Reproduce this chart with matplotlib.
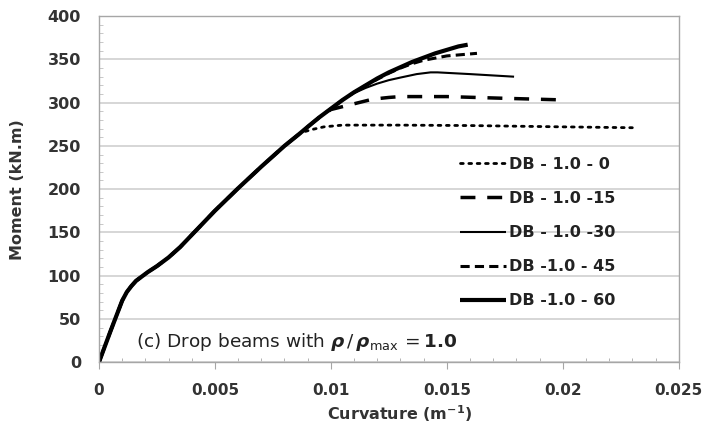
import numpy as np
import matplotlib
matplotlib.use('Agg')
import matplotlib.pyplot as plt
from matplotlib.ticker import MultipleLocator

# shared elastic/cracked branch (same for all drop beams up to yielding)
base_curv = [0, 0.0005, 0.001, 0.0012, 0.0014, 0.0016, 0.0018, 0.0021, 0.0025,
             0.003, 0.0035, 0.004, 0.0045, 0.005, 0.006, 0.007, 0.008, 0.0086]
base_moment = [0, 36, 71, 81, 88, 94, 98, 104, 111, 121, 133, 147, 161, 175,
               201, 226, 250, 263]

# post-branch segments for each beam
db0_curv = [0.0088, 0.0092, 0.0097, 0.0105, 0.013, 0.016, 0.020, 0.0230]
db0_moment = [266, 269, 272, 274, 274, 273.5, 272, 271]

db15_curv = [0.009, 0.0095, 0.010, 0.0106, 0.0112, 0.0118, 0.0125, 0.013, 0.015,
             0.0175, 0.0202]
db15_moment = [272, 283, 292, 296, 300, 304, 306, 307, 307, 305, 303]

db30_curv = [0.009, 0.0095, 0.010, 0.0105, 0.011, 0.0115, 0.012, 0.0125, 0.013,
             0.0137, 0.0143, 0.0146, 0.016, 0.0179]
db30_moment = [272, 283, 293, 303, 311, 317, 322, 326, 329, 333, 335, 335, 333, 330]

db45_curv = [0.009, 0.0095, 0.010, 0.0105, 0.011, 0.0115, 0.012, 0.0125, 0.013,
             0.0135, 0.014, 0.015, 0.0163]
db45_moment = [272, 283, 293, 303, 312, 320, 327, 334, 340, 345, 349, 354, 357]

db60_curv = [0.009, 0.0095, 0.010, 0.0105, 0.011, 0.0115, 0.012, 0.0125, 0.013,
             0.0135, 0.014, 0.0145, 0.015, 0.0155, 0.0159]
db60_moment = [272, 283, 293, 303, 312, 320, 328, 335, 341, 347, 352, 357, 361,
               365, 367]

labels = ['DB - 1.0 - 0', 'DB - 1.0 -15', 'DB - 1.0 -30', 'DB -1.0 - 45', 'DB -1.0 - 60']

series = [
    (db0_curv, db0_moment, dict(lw=2.0, dashes=(1, 2), dash_capstyle='round')),
    (db15_curv, db15_moment, dict(lw=2.5, dashes=(4.3, 3.4))),
    (db30_curv, db30_moment, dict(lw=1.5, ls='-')),
    (db45_curv, db45_moment, dict(lw=2.2, dashes=(3, 1.7))),
    (db60_curv, db60_moment, dict(lw=3.0, ls='-')),
]

plt.rcParams['font.family'] = ['DejaVu Sans']

fig = plt.figure(figsize=(7.07, 4.25), dpi=100)
ax = fig.add_axes([0.140, 0.148, 0.820, 0.814])

for (cx, my, style), lab in zip(series, labels):
    x = np.concatenate([base_curv, cx])
    y = np.concatenate([base_moment, my])
    ax.plot(x, y, color='black', label=lab, solid_capstyle='butt',
            solid_joinstyle='round', **style)

ax.set_xlim(0, 0.025)
ax.set_ylim(0, 400)
ax.xaxis.set_major_locator(MultipleLocator(0.005))
ax.xaxis.set_minor_locator(MultipleLocator(0.001))
ax.yaxis.set_major_locator(MultipleLocator(50))
ax.yaxis.set_minor_locator(MultipleLocator(10))
ax.set_xticks([0, 0.005, 0.01, 0.015, 0.02, 0.025])
ax.set_xticklabels(['0', '0.005', '0.01', '0.015', '0.02', '0.025'])

ax.grid(axis='y', which='major', color='#d0d0d0', lw=1.2)
ax.set_axisbelow(True)
for side in ax.spines.values():
    side.set_color('#a6a6a6')
    side.set_linewidth(1.0)

ax.tick_params(axis='x', which='major', direction='out', length=5, color='#a6a6a6',
               labelsize=11, pad=10)
ax.tick_params(axis='x', which='minor', direction='in', length=3, color='#a6a6a6')
ax.tick_params(axis='y', which='major', length=0, labelsize=11.5, pad=13)
ax.tick_params(axis='y', which='minor', direction='in', length=3, color='#bfbfbf')
for t in ax.get_xticklabels() + ax.get_yticklabels():
    t.set_fontweight('bold')
    t.set_color('#333333')

ax.set_xlabel('Curvature (m$^{\\mathbf{-1}}$)', fontsize=11.5, fontweight='bold',
              color='#333333')
ax.xaxis.set_label_coords(0.519, -0.118)
ax.set_ylabel('Moment (kN.m)', fontsize=11.5, fontweight='bold', color='#333333')
ax.yaxis.set_label_coords(-0.128, 0.5)

leg = ax.legend(loc='upper left', bbox_to_anchor=(0.598, 0.635), frameon=False,
                handlelength=2.9, handletextpad=0.15, labelspacing=1.2,
                prop={'size': 11.5, 'weight': 'bold'})
for t in leg.get_texts():
    t.set_color('#222222')

ax.text(0.063, 0.045, r'(c) Drop beams with $\boldsymbol{\rho}\,/\,\boldsymbol{\rho}_{\max}$'
        r'$\,=\mathbf{1.0}$', transform=ax.transAxes, fontsize=13.3, color='#222222')

fig.savefig('out.png', dpi=100)
